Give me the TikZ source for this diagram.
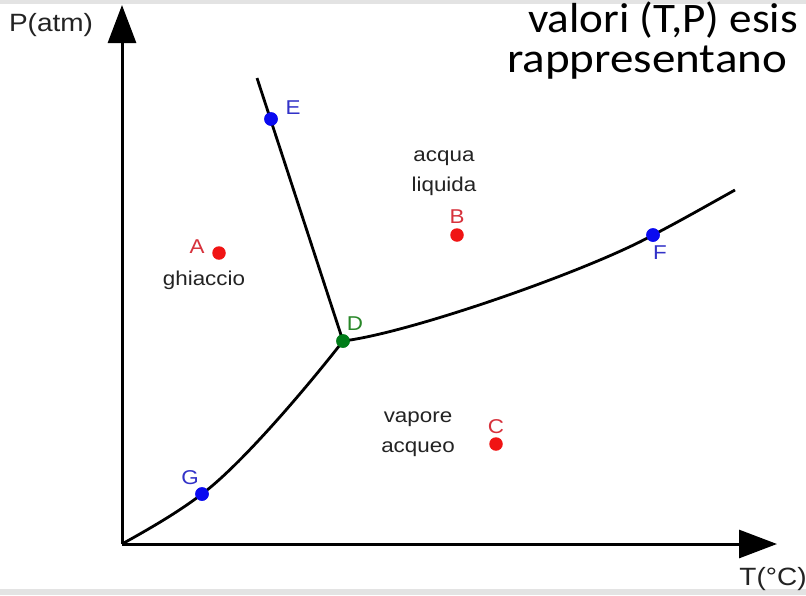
\documentclass[tikz,border=0pt]{standalone}
\usepackage{fontspec}
\usepackage{graphicx}
\setmainfont{Liberation Sans}
\newfontfamily\slidefont{Carlito}
\usetikzlibrary{arrows.meta}
\definecolor{ptred}{RGB}{240,20,20}
\definecolor{lblred}{RGB}{215,50,60}
\definecolor{ptblue}{RGB}{10,10,240}
\definecolor{lblblue}{RGB}{50,50,200}
\definecolor{ptgreen}{RGB}{0,125,25}
\definecolor{lblgreen}{RGB}{40,135,40}
\definecolor{txt}{RGB}{35,35,35}
\newcommand{\sx}[1]{\scalebox{1.12}[1]{#1}}
\begin{document}
\begin{tikzpicture}[x=1pt,y=-1pt,
  dot/.style={circle,inner sep=0pt,minimum size=13.5pt},
  lbl/.style={font=\fontsize{20}{30}\selectfont,inner sep=0pt,text=txt},
  axlbl/.style={font=\fontsize{25}{29}\selectfont,inner sep=0pt,text=txt},
  slide/.style={font=\slidefont\fontsize{42}{50}\selectfont,inner sep=0pt,anchor=base west},
  axis/.style={line width=3pt,-{Triangle[length=38pt,width=28pt]}},
  curve/.style={line width=2.8pt}]
\useasboundingbox (0,0) rectangle (806,595);
\fill[white] (0,0) rectangle (806,595);
% faint strips of the neighbouring slides
\fill[gray!22] (0,0) rectangle (806,4);
\fill[gray!22] (0,589) rectangle (806,595);
% background slide text
\node[slide] (s1) at (528,32) {\scalebox{1.075}[1]{valori (T,P) esis}};
\node[slide] (s2) at (507,72) {\sx{rappresentano}};
% axes
\coordinate (O) at (122,544);
\coordinate (Ytip) at (122,5);
\coordinate (Xtip) at (777,544);
\draw[axis] (O) -- (Ytip);
\draw[axis] (O) -- (Xtip);
\node[axlbl] (pl) at (51,25) {\sx{P(atm)}};
\node[axlbl] (tl) at (773,579) {\sx{T(°C)}};
% points on curves
\coordinate (Etop) at (257,78);
\coordinate (Fend) at (735,190);
\node[dot,fill=ptgreen] (D) at (343,341) {};
\node[dot,fill=ptblue] (E) at (271,119) {};
\node[dot,fill=ptblue] (F) at (653,235) {};
\node[dot,fill=ptblue] (G) at (202,494) {};
% curves
\draw[curve] (Etop) -- (D.center);
\draw[curve] (O) .. controls (149,529) and (177,513) .. (G.center)
  .. controls (242,464) and (308,386) .. (D.center);
\draw[curve] (D.center) .. controls (410,333) and (590,270) .. (F.center)
  .. controls (680,221) and (708,205) .. (Fend);
% redraw dots on top
\node[dot,fill=ptgreen] at (D) {};
\node[dot,fill=ptblue] at (E) {};
\node[dot,fill=ptblue] at (F) {};
\node[dot,fill=ptblue] at (G) {};
% isolated points
\node[dot,fill=ptred] (A) at (219,253) {};
\node[dot,fill=ptred] (B) at (457,235) {};
\node[dot,fill=ptred] (C) at (496,444) {};
% point labels
\node[lbl,text=lblblue] (El) at (293,108) {\sx{E}};
\node[lbl,text=lblgreen] (Dl) at (355,324) {\sx{D}};
\node[lbl,text=lblblue] (Fl) at (660,253) {\sx{F}};
\node[lbl,text=lblblue] (Gl) at (190,478) {\sx{G}};
\node[lbl,text=lblred] (Al) at (197,247) {\sx{A}};
\node[lbl,text=lblred] (Bl) at (457,217) {\sx{B}};
\node[lbl,text=lblred] (Cl) at (496,427) {\sx{C}};
% region labels
\node[lbl] (ghi) at (204,280) {\sx{ghiaccio}};
\node[lbl,align=center] (liq) at (444,173) {\sx{acqua}\\\sx{liquida}};
\node[lbl,align=center] (vap) at (418,434) {\sx{vapore}\\\sx{acqueo}};
\end{tikzpicture}
\end{document}
